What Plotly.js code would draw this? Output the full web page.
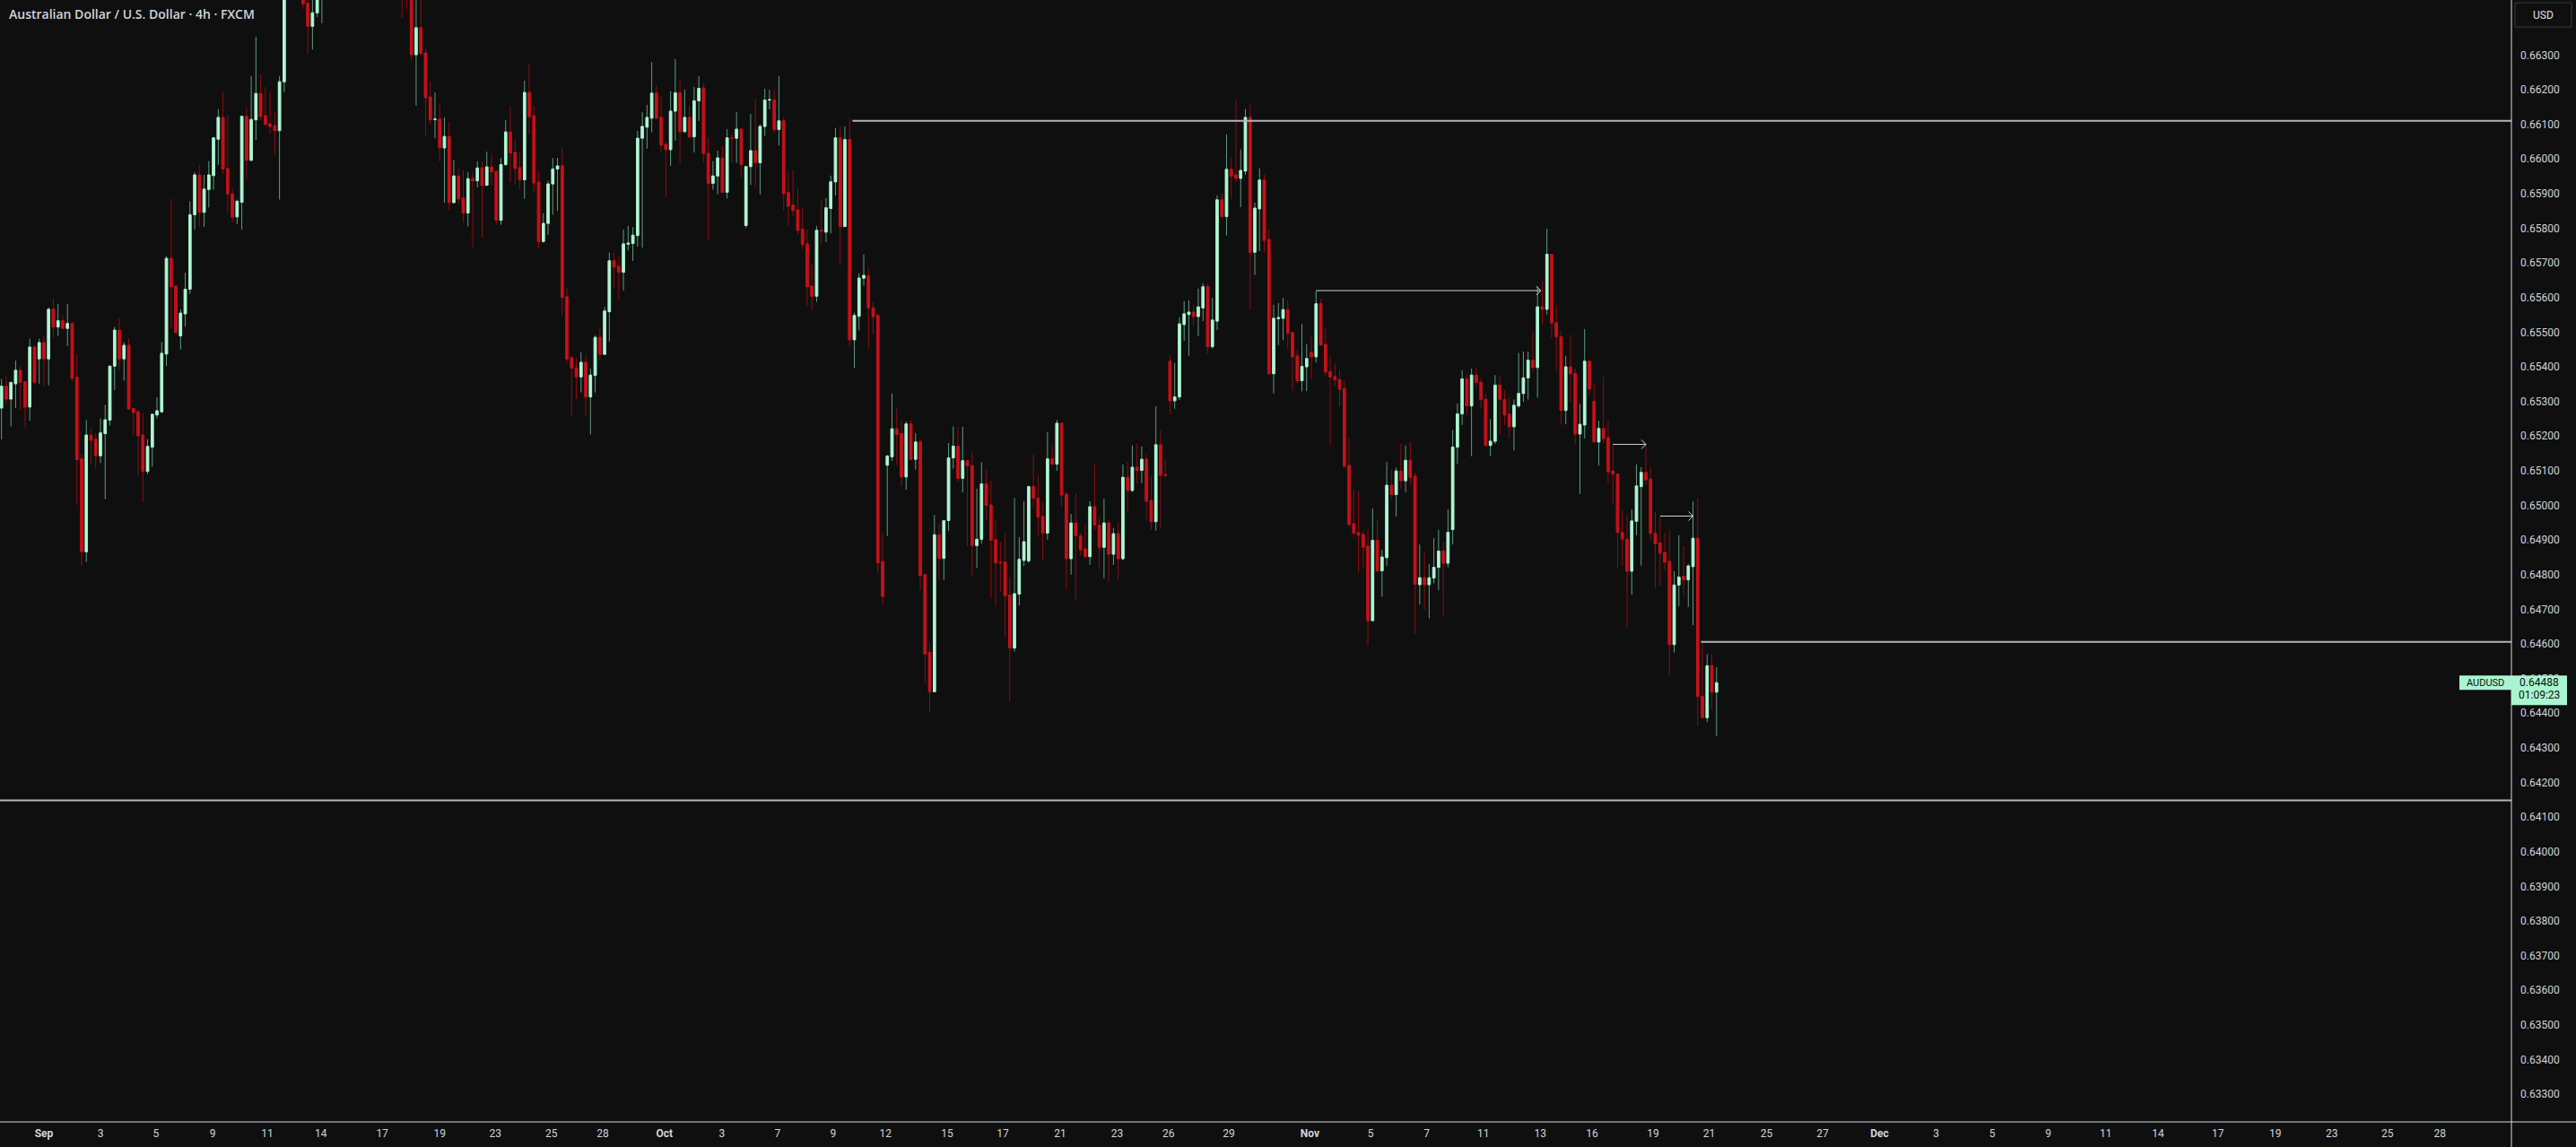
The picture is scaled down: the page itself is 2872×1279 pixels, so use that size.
<!DOCTYPE html>
<html><head><meta charset="utf-8">
<script src="https://cdn.plot.ly/plotly-3.0.1.min.js"></script>
<style>html,body{margin:0;padding:0;background:#0f0f0f;overflow:hidden}#chart{width:2872px;height:1279px}</style>
</head><body><div id="chart"></div>
<script>
// AUDUSD 4h candles (FXCM), 29 Aug -> 21 Nov, one entry per bar
const open = [
0.65281,0.65344,0.65307,0.65351,0.65390,0.65357,0.65284,0.65457,0.65423,0.65470,
0.65423,0.65566,0.65515,0.65533,0.65511,0.65525,0.65370,0.65134,0.64866,0.65203,
0.65191,0.65143,0.65207,0.65246,0.65402,0.65506,0.65423,0.65462,0.65280,0.65270,
0.65203,0.65098,0.65168,0.65261,0.65270,0.65437,0.65713,0.65633,0.65489,0.65553,
0.65624,0.65839,0.65954,0.65846,0.65912,0.65952,0.66057,0.66120,0.65972,0.65899,
0.65833,0.65875,0.66123,0.65996,0.66113,0.66189,0.66125,0.66102,0.66096,0.66082,
0.66223,0.66520,0.66560,0.66520,0.66540,0.66450,0.66383,0.66422,0.66500,
0.66530,0.66580,0.66550,0.66610,0.66660,0.66630,0.66730,0.66810,0.66780,0.66830,0.66870,0.66840,0.66920,0.66630,0.66610,0.66530,
0.66560,0.66500,0.66480,0.66301,0.66379,0.66306,0.66179,0.66114,0.66115,0.66032,
0.66065,0.65874,0.65951,0.65887,0.65844,0.65943,0.65937,0.65974,0.65924,0.65977,
0.65964,0.65823,0.65984,0.66078,0.66019,0.65975,0.65940,0.66192,0.66125,0.65933,
0.65762,0.65814,0.65928,0.65971,0.65980,0.65602,0.65426,0.65397,0.65371,0.65413,
0.65313,0.65375,0.65485,0.65436,0.65559,0.65706,0.65690,0.65673,0.65754,0.65756,
0.65779,0.66060,0.66092,0.66118,0.66190,0.66120,0.66042,0.66027,0.66138,0.66191,
0.66079,0.66120,0.66064,0.66168,
0.66205,0.66016,0.65930,0.65951,0.66003,0.65904,0.66060,0.66060,0.66086,0.65808,
0.65978,0.66024,0.65989,0.66094,0.66170,0.66170,0.66085,0.66110,0.65903,0.65867,
0.65853,0.65797,0.65755,0.65633,0.65604,0.65794,0.65789,0.65857,0.65934,0.66061,
0.65805,0.66056,0.65478,0.65546,0.65656,0.65662,0.65570,0.65548,0.64838,0.65116,
0.65140,0.65221,0.65207,0.65082,0.65235,0.65133,0.65183,0.64800,0.64575,0.64462,
0.64915,0.64847,0.64956,0.65137,0.65171,0.65078,0.65129,0.65115,0.64884,0.64902,
0.65062,0.65001,0.64901,0.64836,0.64836,0.64741,0.64588,0.64744,0.64841,0.64840,
0.65054,0.65021,0.64968,0.64920,0.65134,0.65119,
0.65237,0.65032,0.64846,0.64949,0.64912,0.64874,0.64852,0.64996,0.64943,0.64879,
0.64949,0.64859,0.64918,0.64846,0.65081,0.65043,0.65110,0.65101,0.65133,0.65014,
0.64953,0.65175,0.65089,0.65416,0.65302,0.65313,0.65522,0.65551,0.65558,0.65545,
0.65570,0.65631,0.65458,0.65532,0.65882,0.65834,0.65970,0.65954,0.65944,0.65965,
0.66120,0.65731,0.65856,0.65939,0.65768,0.65380,0.65539,0.65540,0.65565,0.65499,
0.65431,0.65360,0.65400,0.65441,0.65429,0.65582,0.65465,0.65386,0.65372,0.65363,
0.65337,0.65115,0.64947,0.64921,0.64916,0.64882,0.64667,0.64899,0.64811,0.64849,
0.65058,0.65031,0.65099,0.65071,0.65130,0.65084,
0.64771,0.64791,0.64771,0.64790,0.64821,0.64868,0.64833,0.64930,0.65168,0.65264,
0.65365,0.65287,0.65376,0.65355,0.65306,0.65173,0.65185,0.65347,0.65306,0.65263,
0.65227,0.65287,0.65323,0.65368,0.65419,0.65398,0.65573,0.65566,0.65725,0.65527,
0.65487,0.65274,0.65400,0.65381,0.65206,0.65232,0.65416,0.65300,0.65183,0.65222,
0.65195,0.65099,0.65090,0.64922,0.64902,0.64810,0.64954,0.65054,0.65095,0.65076,
0.64920,0.64892,0.64864,0.64838,0.64598,0.64770,0.64795,0.64785,0.64823,0.64905,
0.64448,0.64387,0.64537,0.64461];
const high = [
0.65365,0.65373,0.65355,0.65418,0.65402,0.65357,0.65481,0.65463,0.65481,0.65489,
0.65571,0.65598,0.65582,0.65550,0.65582,0.65529,0.65436,0.65148,0.65247,0.65225,
0.65209,0.65251,0.65290,0.65402,0.65515,0.65540,0.65471,0.65481,0.65280,0.65275,
0.65267,0.65191,0.65263,0.65312,0.65471,0.65719,0.65885,0.65633,0.65566,0.65672,
0.65878,0.65962,0.65983,0.65954,0.65994,0.66061,0.66144,0.66195,0.66125,0.65915,
0.65883,0.66125,0.66150,0.66239,0.66353,0.66244,0.66208,0.66195,0.66137,0.66239,
0.66550,0.66600,0.66630,0.66580,0.66580,0.66475,0.66470,0.66530,0.66570,
0.66610,0.66640,0.66630,0.66690,0.66720,0.66760,0.66840,0.66880,0.66850,0.66910,0.66930,0.67070,0.66980,0.66710,0.66670,0.66610,
0.66620,0.66540,0.66510,0.66480,0.66470,0.66319,0.66223,0.66192,0.66161,0.66120,
0.66107,0.65998,0.65972,0.65967,0.65962,0.65964,0.65993,0.65993,0.66021,0.66012,
0.65967,0.66003,0.66112,0.66151,0.66055,0.66021,0.66226,0.66275,0.66153,0.65964,
0.65843,0.65937,0.66003,0.66003,0.66034,0.65628,0.65432,0.65426,0.65443,0.65434,
0.65395,0.65491,0.65512,0.65573,0.65730,0.65730,0.65719,0.65796,0.65807,0.65803,
0.66081,0.66135,0.66156,0.66280,0.66213,0.66180,0.66049,0.66196,0.66289,0.66228,
0.66200,0.66154,0.66208,0.66239,
0.66219,0.66063,0.65994,0.66024,0.66038,0.66086,0.66073,0.66135,0.66086,0.65980,
0.66130,0.66174,0.66100,0.66203,0.66200,0.66200,0.66239,0.66121,0.65964,0.65968,
0.65915,0.65859,0.65797,0.65695,0.65807,0.65882,0.65887,0.65952,0.66089,0.66096,
0.66094,0.66117,0.65556,0.65670,0.65724,0.65686,0.65589,0.65554,0.64919,0.65146,
0.65323,0.65279,0.65243,0.65243,0.65247,0.65209,0.65192,0.64800,0.64603,0.64972,
0.64948,0.64956,0.65180,0.65228,0.65227,0.65227,0.65129,0.65154,0.65048,0.65125,
0.65104,0.65070,0.64960,0.64895,0.64920,0.64792,0.65021,0.64908,0.65012,0.65057,
0.65147,0.65086,0.65009,0.65211,0.65174,0.65247,
0.65237,0.65038,0.64975,0.65035,0.64920,0.64943,0.65012,0.65118,0.64966,0.65019,
0.64958,0.64935,0.64950,0.65118,0.65125,0.65173,0.65178,0.65170,0.65147,0.65084,
0.65286,0.65216,0.65133,0.65434,0.65411,0.65543,0.65589,0.65592,0.65579,0.65626,
0.65641,0.65639,0.65599,0.65895,0.65901,0.66071,0.66005,0.66171,0.66028,0.66144,
0.66157,0.65874,0.65973,0.65954,0.65796,0.65579,0.65584,0.65599,0.65591,0.65499,
0.65450,0.65524,0.65465,0.65488,0.65619,0.65596,0.65514,0.65427,0.65409,0.65391,
0.65360,0.65195,0.65043,0.65040,0.64923,0.64930,0.64991,0.64958,0.64872,0.65125,
0.65103,0.65109,0.65178,0.65173,0.65183,0.65094,
0.64887,0.64865,0.64830,0.64905,0.64929,0.64894,0.64988,0.65217,0.65294,0.65390,
0.65378,0.65395,0.65398,0.65368,0.65323,0.65249,0.65376,0.65373,0.65333,0.65313,
0.65306,0.65440,0.65444,0.65444,0.65499,0.65631,0.65648,0.65799,0.65725,0.65578,
0.65504,0.65432,0.65492,0.65395,0.65293,0.65509,0.65420,0.65350,0.65244,0.65371,
0.65247,0.65175,0.65090,0.64988,0.64971,0.64988,0.65118,0.65110,0.65180,0.65112,
0.64981,0.64966,0.64922,0.64927,0.64810,0.64914,0.64884,0.64831,0.65011,0.65021,
0.64607,0.64570,0.64570,0.64533];
const low = [
0.65191,0.65291,0.65228,0.65281,0.65275,0.65225,0.65244,0.65350,0.65351,0.65344,
0.65347,0.65484,0.65489,0.65511,0.65460,0.65358,0.65001,0.64826,0.64837,0.65119,
0.65108,0.65122,0.65018,0.65230,0.65333,0.65392,0.65360,0.65278,0.65203,0.65087,
0.65011,0.65090,0.65112,0.65251,0.65267,0.65402,0.65511,0.65497,0.65450,0.65516,
0.65610,0.65796,0.65804,0.65804,0.65860,0.65912,0.65983,0.65957,0.65846,0.65817,
0.65812,0.65796,0.65941,0.65996,0.66055,0.66112,0.66098,0.66073,0.66010,0.65883,
0.66193,0.66470,0.66500,0.66465,0.66433,0.66303,0.66316,0.66410,0.66392,
0.66480,0.66520,0.66510,0.66570,0.66600,0.66610,0.66690,0.66750,0.66720,0.66780,0.66810,0.66760,0.66560,0.66530,0.66490,0.66460,
0.66407,0.66433,0.66284,0.66154,0.66304,0.66066,0.66097,0.66060,0.65993,0.65874,
0.65853,0.65874,0.65872,0.65816,0.65805,0.65744,0.65918,0.65773,0.65924,0.65924,
0.65810,0.65810,0.65980,0.65934,0.65928,0.65913,0.65885,0.66071,0.65907,0.65744,
0.65758,0.65781,0.65839,0.65850,0.65548,0.65410,0.65257,0.65305,0.65326,0.65259,
0.65205,0.65326,0.65416,0.65436,0.65473,0.65626,0.65592,0.65621,0.65736,0.65706,
0.65747,0.65744,0.66030,0.66077,0.66114,0.66019,0.65889,0.65980,0.66053,0.65989,
0.66076,0.66060,0.66019,0.66110,
0.65989,0.65764,0.65912,0.65898,0.65904,0.65886,0.65989,0.65989,0.65947,0.65801,
0.65925,0.65919,0.65898,0.66067,0.66143,0.66074,0.66039,0.65851,0.65808,0.65834,
0.65782,0.65739,0.65577,0.65562,0.65587,0.65752,0.65760,0.65785,0.65895,0.65694,
0.65805,0.65458,0.65396,0.65505,0.65634,0.65452,0.65494,0.64803,0.64713,0.64911,
0.65128,0.65116,0.65055,0.65045,0.65133,0.65103,0.64756,0.64486,0.64401,0.64462,
0.64783,0.64785,0.64926,0.65106,0.65067,0.65037,0.64883,0.64794,0.64819,0.64889,
0.64956,0.64734,0.64707,0.64750,0.64621,0.64434,0.64578,0.64711,0.64825,0.64834,
0.64994,0.64911,0.64841,0.64901,0.65116,0.65100,
0.64997,0.64758,0.64800,0.64726,0.64855,0.64846,0.64828,0.64927,0.64816,0.64790,
0.64780,0.64828,0.64785,0.64841,0.64982,0.65038,0.65064,0.65064,0.64958,0.64930,
0.64927,0.64934,0.65081,0.65263,0.65279,0.65304,0.65475,0.65432,0.65519,0.65488,
0.65532,0.65439,0.65453,0.65506,0.65831,0.65779,0.65885,0.65934,0.65861,0.65954,
0.65565,0.65665,0.65734,0.65729,0.65380,0.65323,0.65463,0.65477,0.65453,0.65330,
0.65354,0.65329,0.65330,0.65366,0.65412,0.65463,0.65373,0.65173,0.65344,0.65287,
0.65108,0.64938,0.64908,0.64806,0.64821,0.64595,0.64667,0.64808,0.64736,0.64825,
0.65017,0.64968,0.65048,0.65038,0.65060,0.64628,
0.64714,0.64699,0.64674,0.64775,0.64755,0.64681,0.64821,0.64887,0.65120,0.65232,
0.65261,0.65142,0.65340,0.65279,0.65173,0.65143,0.65177,0.65204,0.65232,0.65193,
0.65158,0.65282,0.65299,0.65306,0.65385,0.65311,0.65522,0.65551,0.65482,0.65388,
0.65234,0.65234,0.65299,0.65177,0.65033,0.65193,0.65318,0.65183,0.65115,0.65180,
0.65066,0.65004,0.64818,0.64826,0.64648,0.64742,0.64914,0.64826,0.65059,0.64902,
0.64761,0.64766,0.64813,0.64508,0.64575,0.64709,0.64739,0.64707,0.64654,0.64362,
0.64387,0.64374,0.64411,0.64334];
const close = [
0.65344,0.65307,0.65355,0.65390,0.65355,0.65284,0.65457,0.65355,0.65470,0.65423,
0.65566,0.65515,0.65533,0.65511,0.65525,0.65367,0.65132,0.64866,0.65203,0.65188,
0.65143,0.65209,0.65247,0.65402,0.65506,0.65423,0.65462,0.65278,0.65268,0.65201,
0.65098,0.65170,0.65263,0.65273,0.65439,0.65713,0.65631,0.65499,0.65555,0.65624,
0.65839,0.65954,0.65846,0.65913,0.65954,0.66061,0.66120,0.65971,0.65899,0.65832,
0.65878,0.66123,0.65996,0.66114,0.66189,0.66123,0.66100,0.66094,0.66082,0.66223,
0.66520,0.66560,0.66520,0.66540,0.66448,0.66383,0.66422,0.66500,0.66530,
0.66580,0.66550,0.66610,0.66660,0.66630,0.66730,0.66810,0.66780,0.66830,0.66870,0.66840,0.66920,0.66630,0.66610,0.66530,0.66560,
0.66500,0.66480,0.66301,0.66379,0.66304,0.66177,0.66113,0.66115,0.66032,0.66065,
0.65874,0.65951,0.65885,0.65844,0.65943,0.65937,0.65974,0.65924,0.65977,0.65963,
0.65823,0.65984,0.66078,0.66017,0.65973,0.65940,0.66192,0.66122,0.65931,0.65762,
0.65814,0.65928,0.65971,0.65980,0.65600,0.65423,0.65396,0.65371,0.65413,0.65313,
0.65376,0.65485,0.65436,0.65561,0.65706,0.65688,0.65673,0.65755,0.65757,0.65780,
0.66060,0.66094,0.66120,0.66190,0.66118,0.66040,0.66027,0.66138,0.66191,0.66079,
0.66120,0.66064,0.66168,0.66204,
0.66016,0.65930,0.65951,0.66003,0.65904,0.66061,0.66059,0.66086,0.65984,0.65978,
0.66024,0.65989,0.66094,0.66170,0.66171,0.66085,0.66110,0.65900,0.65864,0.65851,
0.65794,0.65753,0.65631,0.65604,0.65794,0.65792,0.65859,0.65934,0.66061,0.65805,
0.66056,0.65478,0.65548,0.65656,0.65664,0.65570,0.65545,0.64834,0.64737,0.65142,
0.65221,0.65204,0.65082,0.65235,0.65133,0.65183,0.64797,0.64571,0.64462,0.64915,
0.64847,0.64956,0.65137,0.65171,0.65078,0.65129,0.65114,0.64884,0.64902,0.65062,
0.65000,0.64899,0.64834,0.64834,0.64739,0.64588,0.64745,0.64844,0.64895,0.65054,
0.65021,0.64966,0.64920,0.65134,0.65119,0.65237,
0.65030,0.64846,0.64949,0.64912,0.64872,0.64852,0.64996,0.64943,0.64879,0.64949,
0.64859,0.64918,0.64846,0.65081,0.65043,0.65110,0.65101,0.65133,0.65012,0.64953,
0.65175,0.65087,0.65087,0.65302,0.65313,0.65524,0.65553,0.65558,0.65545,0.65573,
0.65631,0.65458,0.65535,0.65882,0.65834,0.65970,0.65951,0.65944,0.65967,0.66120,
0.65731,0.65858,0.65939,0.65765,0.65380,0.65540,0.65542,0.65565,0.65497,0.65429,
0.65360,0.65401,0.65424,0.65429,0.65582,0.65463,0.65385,0.65371,0.65363,0.65335,
0.65113,0.64945,0.64920,0.64914,0.64879,0.64667,0.64899,0.64811,0.64851,0.65058,
0.65031,0.65099,0.65071,0.65130,0.65081,0.64772,
0.64791,0.64771,0.64791,0.64821,0.64868,0.64833,0.64922,0.65168,0.65264,0.65365,
0.65287,0.65376,0.65355,0.65306,0.65173,0.65185,0.65347,0.65306,0.65261,0.65227,
0.65289,0.65323,0.65368,0.65419,0.65398,0.65573,0.65566,0.65725,0.65527,0.65487,
0.65274,0.65400,0.65380,0.65206,0.65234,0.65416,0.65336,0.65183,0.65222,0.65193,
0.65097,0.65090,0.64922,0.64902,0.64810,0.64955,0.65056,0.65095,0.65074,0.64919,
0.64889,0.64862,0.64836,0.64598,0.64770,0.64793,0.64785,0.64825,0.64905,0.64448,
0.64387,0.64537,0.64461,0.64488];

// date tick labels, positioned at bar index
const tickIdx = [9,21,32.8,44.8,56.4,67.8,80.8,93,104.8,116.7,127.6,140.7,152.9,164.7,176.5,187.6,200.7,212.5,224.7,236.8,247.7,260.5,277.7,290.6,302.5,314.5,326.6,337.6,350.5,362.4,374.6,386.5,398.6,410.6,422.5,434.4,446.6,457.7,470.4,482.6,494.6,506.4,517.5];
const tickText = ['Sep','3','5','9','11','14','17','19','23','25','28','Oct','3','7','9','12','15','17','21','23','26','29','Nov','5','7','11','13','16','19','21','25','27','Dec','3','5','9','11','14','17','19','23','25','28'];
const monthNames = ['Sep','Oct','Nov','Dec'];

// horizontal levels (price, starting bar)
const levelPrice = [0.66110, 0.64606, 0.64148];
const levelStart = [180.6, 360.7, -1];
// arrows (start bar, end bar, price)
const arrowStart = [279, 342, 352];
const arrowEnd = [326.7, 349, 359];
const arrowPrice = [0.65620, 0.65176, 0.64969];

const symbol = 'AUDUSD';
const countdown = '01:09:23';
const titleText = 'Australian Dollar / U.S. Dollar · 4h · FXCM';

// ---- rendering ----
const W = 2872, H = 1279;
const M = {l:0, r:72, t:0, b:28};
const PW = W - M.l - M.r, PH = H - M.t - M.b;
const xRange = [-0.32, 532.7];
const yRange = [0.63220, 0.66459];
const pxY = (yRange[1]-yRange[0]) / PH;   // price per pixel
const pxX = (xRange[1]-xRange[0]) / PW;   // bars per pixel

const UP_BODY = '#b9f6d9', UP_EDGE = '#a3efca', UP_WICK = '#5e9c82';
const DN_BODY = '#c4111a', DN_WICK = '#8f0c10';
const TXT = '#d1d4dc', LINE = '#b2b5be', BG = '#0f0f0f';

const idx = open.map((_, i) => i);
const bodyHi = open.map((o, i) => Math.max(o, close[i]));
const bodyLo = open.map((o, i) => Math.min(o, close[i]));

const traces = [];
traces.push({
  type:'candlestick', x: idx, open, high, low, close,
  increasing:{line:{color:UP_WICK, width:1}, fillcolor:UP_WICK},
  decreasing:{line:{color:DN_WICK, width:1}, fillcolor:DN_WICK},
  whiskerwidth:0, hoverinfo:'skip', showlegend:false
});
traces.push({
  type:'candlestick', x: idx, open, high: bodyHi, low: bodyLo, close,
  increasing:{line:{color:UP_EDGE, width:1}, fillcolor:UP_BODY},
  decreasing:{line:{color:DN_BODY, width:1}, fillcolor:DN_BODY},
  whiskerwidth:0, hoverinfo:'skip', showlegend:false
});
levelPrice.forEach((p, k) => {
  traces.push({type:'scatter', mode:'lines', x:[levelStart[k], xRange[1]+5], y:[p, p],
    line:{color:LINE, width:2}, hoverinfo:'skip', showlegend:false, cliponaxis:true});
});
arrowPrice.forEach((p, k) => {
  const e = arrowEnd[k], s = arrowStart[k];
  const hx = 5 * pxX, hy = 5 * pxY;
  traces.push({type:'scatter', mode:'lines',
    x:[s, e, null, e - hx, e, e - hx], y:[p, p, null, p + hy, p, p - hy],
    line:{color:TXT, width:1}, hoverinfo:'skip', showlegend:false});
});

const last = close[close.length - 1];
const shapes = [
  // right axis separator and bottom border
  {type:'line', xref:'paper', yref:'paper', x0:1, x1:1, y0:-M.b/PH, y1:1, line:{color:'#d8d9dc', width:1}},
  {type:'line', xref:'paper', yref:'paper', x0:0, x1:W/PW, y0:0, y1:0, line:{color:'#d8d9dc', width:1}},
  // USD box
  {type:'rect', xref:'paper', yref:'paper', x0:2804/PW, x1:2867/PW, y0:(PH-30)/PH, y1:(PH-3)/PH,
    line:{color:'#3a3a3a', width:1}, fillcolor:BG},
  // symbol tag and last price tag
  {type:'rect', xref:'paper', yref:'y', x0:2742/PW, x1:1, y0:last - 8*pxY, y1:last + 8*pxY,
    line:{width:0}, fillcolor:'#a9f5d1'},
  {type:'rect', xref:'paper', yref:'y', x0:1, x1:2862/PW, y0:last - 25*pxY, y1:last + 8*pxY,
    line:{width:0}, fillcolor:'#a9f5d1'}
];

const annotations = [
  {xref:'paper', yref:'paper', x:8/PW, y:(PH-16)/PH, xanchor:'left', yanchor:'middle', showarrow:false,
    text:titleText, font:{family:'Open Sans, sans-serif', size:14, color:TXT, weight:600}},
  {xref:'paper', yref:'paper', x:2835.5/PW, y:(PH-16.5)/PH, xanchor:'center', yanchor:'middle', showarrow:false,
    text:'USD', font:{family:'Roboto, sans-serif', size:12, color:'#e0e3eb'}},
  {xref:'paper', yref:'y', x:2771/PW, y:last, xanchor:'center', yanchor:'middle', showarrow:false,
    text:symbol, font:{family:'Roboto, sans-serif', size:11, color:'#0f0f0f'}},
  {xref:'paper', yref:'y', x:2831/PW, y:last, xanchor:'center', yanchor:'middle', showarrow:false,
    text:last.toFixed(5), font:{family:'Roboto, sans-serif', size:12, color:'#0f0f0f'}},
  {xref:'paper', yref:'y', x:2831/PW, y:last - 14*pxY, xanchor:'center', yanchor:'middle', showarrow:false,
    text:countdown, font:{family:'Roboto, sans-serif', size:12, color:'#0f0f0f'}}
];

const priceTicks = [];
for (let k = 633; k <= 663; k++) priceTicks.push(k / 1000);

const layout = {
  width:W, height:H, margin:M, paper_bgcolor:BG, plot_bgcolor:BG,
  showlegend:false, hovermode:false, dragmode:false,
  xaxis:{range:xRange, type:'linear', showgrid:false, zeroline:false, showline:false,
    rangeslider:{visible:false}, tickmode:'array', tickvals:tickIdx,
    ticktext:tickText.map(t => monthNames.includes(t) ? '<b>'+t+'</b>' : t),
    ticks:'', ticklabelstandoff:4, tickfont:{family:'Roboto, sans-serif', size:12, color:TXT}},
  yaxis:{range:yRange, side:'right', showgrid:false, zeroline:false, showline:false,
    tickmode:'array', tickvals:priceTicks, ticktext:priceTicks.map(v => v.toFixed(5)),
    ticks:'', ticklabelstandoff:9, tickfont:{family:'Roboto, sans-serif', size:12, color:TXT}},
  shapes, annotations
};

Plotly.newPlot('chart', traces, layout, {displayModeBar:false, staticPlot:true});
</script></body></html>
